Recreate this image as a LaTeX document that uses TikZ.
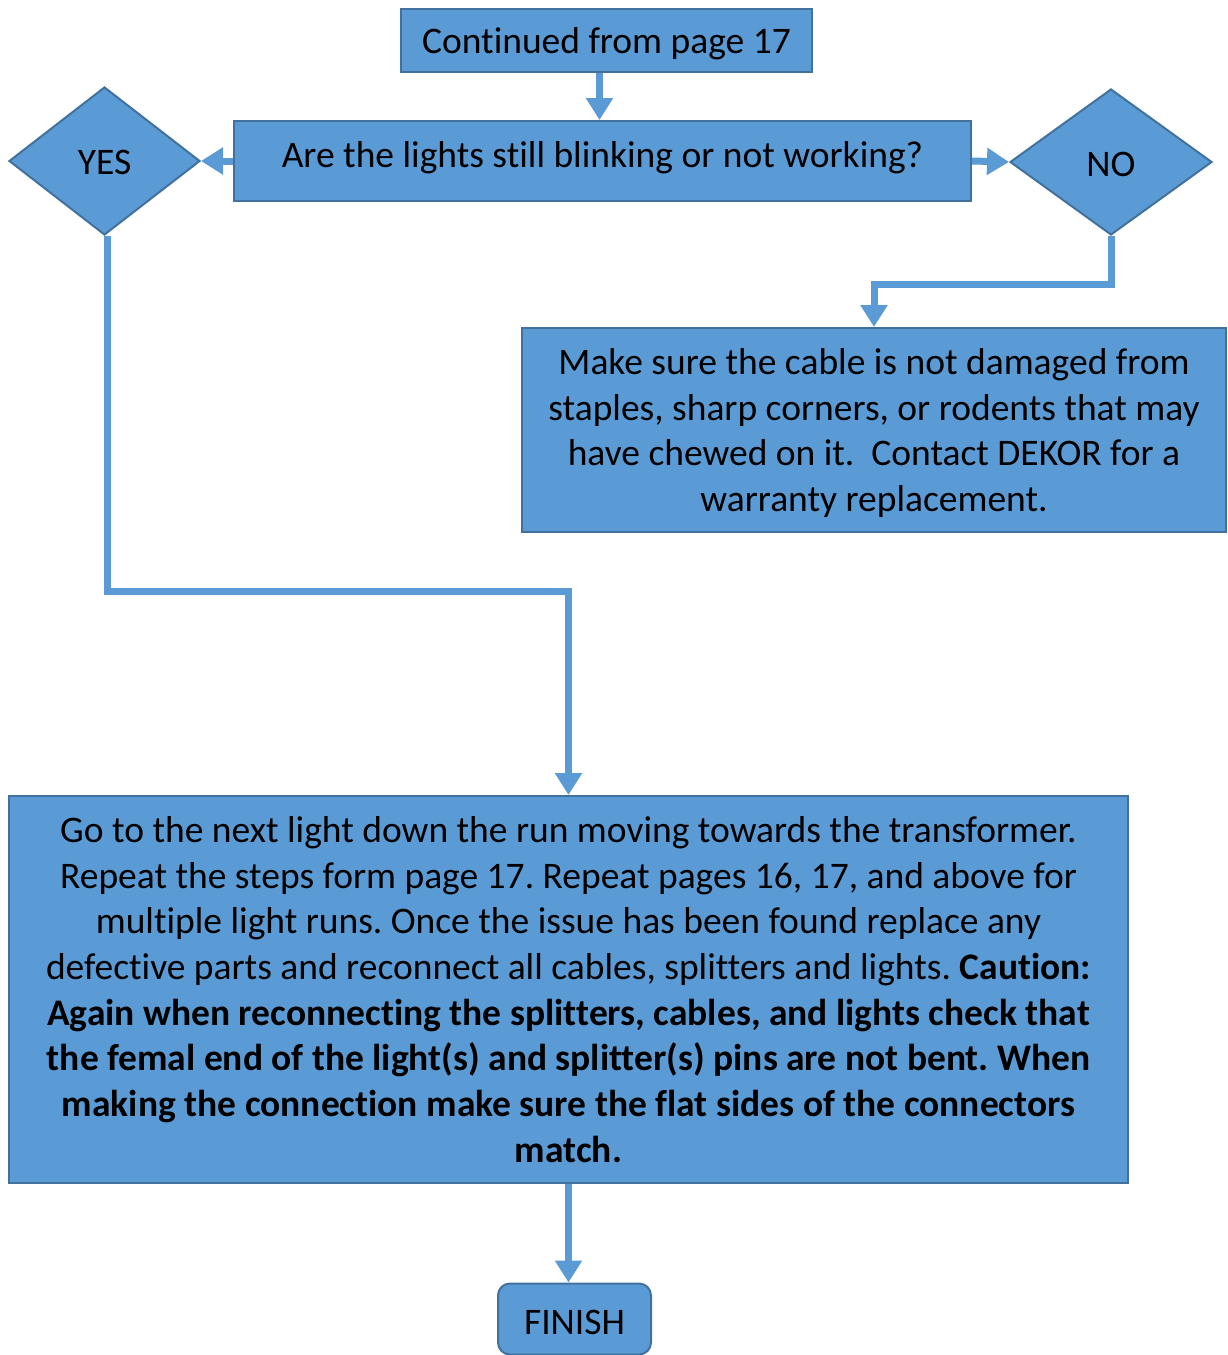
\documentclass[tikz,border=0pt]{standalone}
\usepackage{fontspec}
\setmainfont{Carlito}[Ligatures=NoCommon]
\usetikzlibrary{shapes.geometric,arrows.meta}
\definecolor{boxfill}{HTML}{5B9BD5}
\definecolor{boxline}{HTML}{41719C}
\definecolor{wire}{HTML}{5B9BD5}

\begin{document}
\frenchspacing
\begin{tikzpicture}[x=1pt,y=-1pt,
  txt/.style={font=\fontsize{37.5}{45.7}\selectfont,align=center,inner sep=0pt},
  box/.style={draw=boxline,fill=boxfill,line width=2pt,inner sep=0pt},
  choice/.style={box,diamond,shape aspect=1},
  conn/.style={draw=wire,line width=7pt,-{Triangle[width=26pt,length=22pt]}}
]
\useasboundingbox (0,0) rectangle (1228,1355);

% shapes
\node[box,minimum width=411pt,minimum height=63pt] (top) at (606.5,40.5) {};
\node[box,minimum width=737pt,minimum height=80pt] (q) at (602.5,161) {};
\node[choice,minimum width=191pt,minimum height=148pt] (yes) at (104.5,161) {};
\node[choice,minimum width=202pt,minimum height=146pt] (no) at (1111,162) {};
\node[box,minimum width=704pt,minimum height=204pt] (mk) at (874,430) {};
\node[box,minimum width=1119pt,minimum height=387pt] (big) at (568.5,989.5) {};
\node[box,rounded corners=12pt,minimum width=153pt,minimum height=71pt] (fin) at (574.5,1319) {};

% texts
\node[txt] (topt) at ([yshift=-3pt]top.center) {Continued from page 17};
\node[txt] (qt) at ([yshift=3pt]q.center) {Are the lights still blinking or not working?};
\node[txt] (yest) at ([yshift=-1pt]yes.center) {YES};
\node[txt] (not) at ([yshift=-2pt]no.center) {NO};
\node[txt] (mkt) at ([yshift=-3pt]mk.center)
  {Make sure the cable is not damaged from\\
   staples, sharp corners, or rodents that may\\
   have chewed on it.\ \ Contact DEKOR for a\\
   warranty replacement.};
\node[txt] (bigt) at (big.center)
  {Go to the next light down the run moving towards the transformer.\\
   Repeat the steps form page 17. Repeat pages 16, 17, and above for\\
   multiple light runs. Once the issue has been found replace any\\
   defective parts and reconnect all cables, splitters and lights. \textbf{Caution:}\\
   \textbf{Again when reconnecting the splitters, cables, and lights check that}\\
   \textbf{the femal end of the light(s) and splitter(s) pins are not bent. When}\\
   \textbf{making the connection make sure the flat sides of the connectors}\\
   \textbf{match.}};
\node[txt] (fint) at ([yshift=-3pt]fin.center) {FINISH};

% connectors
\draw[conn] ([xshift=-7pt]top.south) -- ([xshift=-7pt]top.south |- q.north);
\draw[conn] (q.west) -- (yes.east);
\draw[conn] (q.east) -- (no.west);
\draw[conn] (no.south) -- ++(0,48) -| (mk.north);
\draw[conn] ([xshift=3pt]yes.south) -- ++(0,355) -| (big.north);
\draw[conn] (big.south) -- (big.south |- fin.north);
\end{tikzpicture}
\end{document}
